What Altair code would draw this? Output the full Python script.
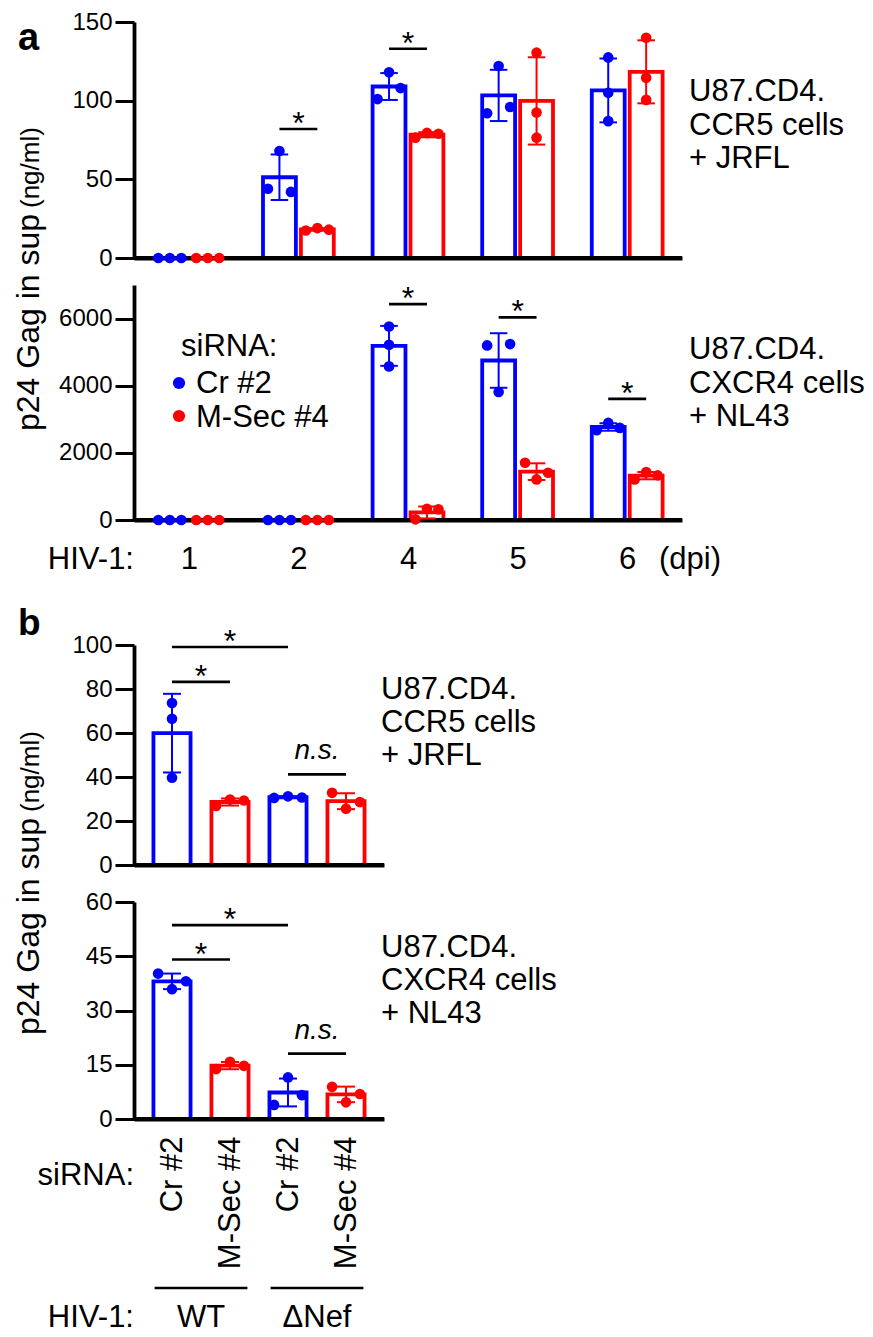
import json
import altair as alt
import numpy as np
import pandas as pd

FONT = "Liberation Sans"

# ---------------- data ----------------
series = ["Cr #2", "M-Sec #4"]
series_colors = ["#0000ff", "#ff0000"]

# panel a: p24 Gag (ng/ml) per dpi, three replicates per bar
dpi_labels = ["1", "2", "4", "5", "6"]
a_ccr5_cr = [[0, 0, 0], [44, 68, 42], [101, 118, 108], [92, 122, 96], [127.5, 105, 87]]
a_ccr5_msec = [[0, 0, 0], [17.5, 19, 18], [76.5, 79.5, 79], [130.5, 92.5, 76.5], [140, 114.5, 100.5]]
a_cxcr4_cr = [[0, 0, 0], [0, 0, 0], [5765, 5220, 4576], [5200, 3813, 5240], [2675, 2892, 2744]]
a_cxcr4_msec = [[0, 0, 0], [0, 0, 0], [20, 336, 317], [1704, 1209, 1407], [1209, 1426, 1328]]
a_ccr5_ticks = [0, 50, 100, 150]
a_cxcr4_ticks = [0, 2000, 4000, 6000]
a_ccr5_sig_group = ["2", "4"]
a_ccr5_sig_y = [82, 133]
a_cxcr4_sig_group = ["4", "5", "6"]
a_cxcr4_sig_y = [6429, 6033, 3606]

# panel b
b_hiv = ["WT", "WT", "\u0394Nef", "\u0394Nef"]
b_sirna = ["Cr #2", "M-Sec #4", "Cr #2", "M-Sec #4"]
b_ccr5 = [[73.6, 66.5, 39.7], [26.8, 29.8, 29.3], [30.5, 31.2, 30.7], [32.8, 25.6, 28.6]]
b_cxcr4 = [[40.2, 35.9, 38.1], [13.8, 15.8, 14.7], [3.9, 11.5, 6.6], [8.9, 4.6, 6.9]]
b_ccr5_ticks = [0, 20, 40, 60, 80, 100]
b_cxcr4_ticks = [0, 15, 30, 45, 60]
b_sig_from = [0, 0, 2]
b_sig_to = [2, 1, 3]
b_sig_text = ["*", "*", "n.s."]
b_ccr5_sig_y = [99.1, 83.2, 41.2]
b_cxcr4_sig_y = [53.6, 44.1, 18.1]

cell_ccr5 = ["U87.CD4.", "CCR5 cells", "+ JRFL"]
cell_cxcr4 = ["U87.CD4.", "CXCR4 cells", "+ NL43"]

# ---------------- layout / style constants ----------------
DOT_PX = 12.0
LINE_W = 3.8
A_W, B_W = 548, 250
A_XDOM = [0, len(dpi_labels)]
B_XDOM = [0, B_W / 58.0]
B_FIRST = (B_XDOM[1] - (len(b_sirna) - 1)) / 2.0
A_OFF, A_HW, A_SP, A_CAP = 0.173, 0.15, 0.105, 0.08
B_HW, B_SP, B_CAP = 0.32, 0.24, 0.155
TITLE_X = -95

color_scale = alt.Scale(domain=series, range=series_colors)


def spread_offsets(vals, thr):
    n = len(vals)
    order = sorted(range(n), key=lambda i: vals[i])
    clusters = [[order[0]]]
    for a, b in zip(order[:-1], order[1:]):
        if vals[b] - vals[a] < thr:
            clusters[-1].append(b)
        else:
            clusters.append([b])
    offs = [0.0] * n
    patterns = {1: [0.0], 2: [-1.0, 1.0], 3: [-1.0, 0.0, 1.0]}
    for c in clusters:
        c = sorted(c)
        pat = patterns.get(len(c)) or list(np.linspace(-1, 1, len(c)))
        for i, p in zip(c, pat):
            offs[i] = p
    return offs


def y_axis(ticks):
    return alt.Axis(values=ticks, title=None, grid=False, domain=True, domainColor="black",
                    domainWidth=LINE_W, ticks=True, tickColor="black", tickWidth=3, tickSize=19,
                    labelPadding=3, labelFontSize=24, labelColor="black", labelFont=FONT,
                    labelOverlap=False, labelFlush=False, format="d")


def x_axis(values=None, labels=None, angle=None, pad=24):
    kw = dict(title=None, grid=False, ticks=False, tickSize=0, domain=True,
              domainColor="black", domainWidth=LINE_W)
    if labels is None:
        kw["labels"] = False
    else:
        kw.update(values=values,
                  labelExpr=json.dumps(labels, ensure_ascii=False) + "[floor(datum.value)]",
                  labelFontSize=31, labelColor="black", labelFont=FONT, labelPadding=pad,
                  labelOverlap=False, labelFlush=False)
        if angle is not None:
            kw.update(labelAngle=angle, labelAlign="right", labelBaseline="middle")
    return alt.Axis(**kw)


def note(text, x, y, size=31, align="left", angle=None, weight="normal", style="normal",
         line_height=None):
    mk = dict(text=text, align=align, baseline="alphabetic", fontSize=size, font=FONT,
              color="black", fontWeight=weight, fontStyle=style)
    if angle is not None:
        mk["angle"] = angle
    if line_height is not None:
        mk["lineHeight"] = line_height
    return alt.Chart(alt.Data(values=[{}])).mark_text(**mk).encode(x=alt.value(x), y=alt.value(y))


def panel(centers, names, values, half_w, spread, cap, xdom, w, ydom, plot_h, top, yticks,
          xaxis, sig, extra):
    view_h = plot_h + top
    xs = alt.Scale(domain=xdom, nice=False, zero=False)
    ys = alt.Scale(domain=ydom, range=[view_h, top], nice=False, zero=False)
    ya = y_axis(yticks)

    def X(f):
        return alt.X(f"{f}:Q", scale=xs, axis=xaxis)

    def Y(f):
        return alt.Y(f"{f}:Q", scale=ys, axis=ya)

    thr = DOT_PX * (ydom[1] - ydom[0]) / plot_h
    bars, segs, pts = [], [], []
    for c, name, vals in zip(centers, names, values):
        v = np.asarray(vals, float)
        m, sd = float(v.mean()), float(v.std(ddof=1))
        bars.append({"x0": c - half_w, "x1": c + half_w, "y0": 0.0, "y1": m, "series": name})
        lo, hi = m - sd, m + sd
        segs += [{"x": c, "x2": c, "y": lo, "y2": hi, "series": name},
                 {"x": c - cap, "x2": c + cap, "y": hi, "y2": hi, "series": name},
                 {"x": c - cap, "x2": c + cap, "y": lo, "y2": lo, "series": name}]
        for val, o in zip(vals, spread_offsets(list(vals), thr)):
            pts.append({"x": c + o * spread, "y": val, "series": name})
    bars, segs, pts = pd.DataFrame(bars), pd.DataFrame(segs), pd.DataFrame(pts)
    base = pd.DataFrame({"x0": [xdom[0]], "x1": [xdom[1]], "y": [0.0]})

    layers = [
        alt.Chart(bars).mark_rect(fill="white", strokeWidth=LINE_W).encode(
            x=X("x0"), x2="x1", y=Y("y0"), y2="y1",
            stroke=alt.Stroke("series:N", scale=color_scale, legend=None)),
        alt.Chart(base).mark_rule(color="black", strokeWidth=LINE_W).encode(
            x=X("x0"), x2="x1", y=Y("y")),
        alt.Chart(segs).mark_rule(strokeWidth=2).encode(
            x=X("x"), x2="x2", y=Y("y"), y2="y2",
            color=alt.Color("series:N", scale=color_scale, legend=None)),
        alt.Chart(pts).mark_circle(size=113, opacity=1).encode(
            x=X("x"), y=Y("y"), color=alt.Color("series:N", scale=color_scale, legend=None)),
        alt.Chart(sig).mark_rule(color="black", strokeWidth=2.7).encode(
            x=X("x"), x2="x2", y=Y("y")),
    ]
    stars = sig[sig["label"] == "*"]
    ns = sig[sig["label"] != "*"]
    if len(stars):
        layers.append(alt.Chart(stars).mark_text(fontSize=32, font=FONT, baseline="alphabetic",
                                                 align="center", dy=5, color="black").encode(
            x=X("xm"), y=Y("y"), text="label:N"))
    if len(ns):
        layers.append(alt.Chart(ns).mark_text(fontSize=28, font=FONT, baseline="alphabetic",
                                              align="center", dy=-15, fontStyle="italic",
                                              color="black").encode(
            x=X("xm"), y=Y("y"), text="label:N"))
    extra_layers = [e(X, Y) if callable(e) else e for e in extra]
    return alt.layer(*layers, *extra_layers).properties(width=w, height=view_h)


def a_panel(cr_vals, ms_vals, ydom, plot_h, top, yticks, xaxis, sig_groups, sig_y, extra):
    centers, names, vals = [], [], []
    for gi in range(len(dpi_labels)):
        for si, v in enumerate([cr_vals[gi], ms_vals[gi]]):
            centers.append(gi + 0.5 + (2 * si - 1) * A_OFF)
            names.append(series[si])
            vals.append(v)
    gc = [dpi_labels.index(g) + 0.5 for g in sig_groups]
    sig = pd.DataFrame({"x": [c - A_OFF for c in gc], "x2": [c + A_OFF for c in gc],
                        "xm": gc, "y": sig_y, "label": ["*"] * len(gc)})
    return panel(centers, names, vals, A_HW, A_SP, A_CAP, A_XDOM, A_W, ydom, plot_h, top,
                 yticks, xaxis, sig, extra)


def b_panel(values, ydom, plot_h, top, yticks, xaxis, sig_y, extra):
    centers = [B_FIRST + i for i in range(len(b_sirna))]
    sig = pd.DataFrame({"x": [centers[i] for i in b_sig_from], "x2": [centers[i] for i in b_sig_to],
                        "xm": [(centers[i] + centers[j]) / 2 for i, j in zip(b_sig_from, b_sig_to)],
                        "y": sig_y, "label": b_sig_text})
    return panel(centers, list(b_sirna), values, B_HW, B_SP, B_CAP, B_XDOM, B_W, ydom, plot_h,
                 top, yticks, xaxis, sig, extra)


# ---------------- panel a ----------------
a1 = a_panel(a_ccr5_cr, a_ccr5_msec, [0, 150], 236, 0, a_ccr5_ticks, x_axis(),
             a_ccr5_sig_group, a_ccr5_sig_y,
             [note("a", -116, 28, size=38, weight="bold"),
              note("p24 Gag in sup", TITLE_X, 409, size=32, angle=270),
              note("(ng/ml)", TITLE_X, 186, size=26, angle=270),
              note(cell_ccr5, 555, 79, line_height=33.5)])

legend_layers = [note("siRNA:", 47, 98)]
for i, (name, col) in enumerate(zip(series, series_colors)):
    legend_layers.append(
        alt.Chart(alt.Data(values=[{}])).mark_circle(size=150, opacity=1, color=col).encode(
            x=alt.value(45), y=alt.value(125 + 33 * i)))
    legend_layers.append(note(name, 62, 135 + 34 * i))

a2 = a_panel(a_cxcr4_cr, a_cxcr4_msec, [0, 7000], 235, 27, a_cxcr4_ticks,
             x_axis([i + 0.5 for i in range(len(dpi_labels))], dpi_labels),
             a_cxcr4_sig_group, a_cxcr4_sig_y,
             legend_layers + [note(cell_cxcr4, 555, 101, line_height=33.5),
                              note("HIV-1:", 0, 311, align="right"),
                              note("(dpi)", 525, 311)])

# ---------------- panel b ----------------
b_centers = [B_FIRST + i for i in range(len(b_sirna))]
hiv_groups = list(dict.fromkeys(b_hiv))
grp = pd.DataFrame({
    "name": hiv_groups,
    "xc": [np.mean([c for c, h in zip(b_centers, b_hiv) if h == g]) for g in hiv_groups],
})
grp["x0"] = grp["xc"] - 0.8
grp["x1"] = grp["xc"] + 0.8


def group_lines(X, Y):
    return alt.Chart(grp).mark_rule(color="black", strokeWidth=2.7).encode(
        x=X("x0"), x2="x1", y=alt.value(423))


def group_text(X, Y):
    return alt.Chart(grp).mark_text(fontSize=31, font=FONT, baseline="alphabetic",
                                    align="center", color="black").encode(
        x=X("xc"), y=alt.value(462), text="name:N")


b1 = b_panel(b_ccr5, [0, 100], 220, 125, b_ccr5_ticks, x_axis(), b_ccr5_sig_y,
             [note("b", -116, 115, size=37, weight="bold"),
              note("p24 Gag in sup", TITLE_X, 515, size=32, angle=270),
              note("(ng/ml)", TITLE_X, 292, size=26, angle=270),
              note(cell_ccr5, 247, 179, line_height=33)])

b2 = b_panel(b_cxcr4, [0, 60], 217, 37, b_cxcr4_ticks,
             x_axis(b_centers, b_sirna, angle=270, pad=17), b_cxcr4_sig_y,
             [note(cell_cxcr4, 247, 92, line_height=33),
              note("siRNA:", 0, 320, align="right"),
              group_lines, group_text,
              note("HIV-1:", 0, 462, align="right")])

chart = alt.vconcat(a1, a2, b1, b2, spacing=0, bounds="flush").resolve_scale(
    x="independent", y="independent"
).properties(
    padding={"left": 5, "top": 2, "right": 0, "bottom": 0}
).configure(font=FONT).configure_view(stroke=None)

chart.save("out.html", embed_options={"renderer": "svg", "actions": False})
